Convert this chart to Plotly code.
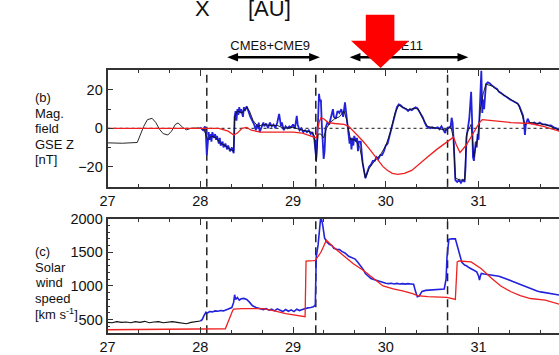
import plotly.graph_objects as go

# ---------------- data ----------------
# Panel (b): magnetic field GSE Z [nT], time in days
bz_obs_black_t = [27.00, 27.16, 27.32, 27.35, 27.39, 27.43, 27.48, 27.52, 27.56, 27.60, 27.65,
                  27.69, 27.73, 27.76, 27.81, 27.85, 27.90, 27.98, 28.04,
                  28.08, 28.12, 28.17, 28.22, 28.27, 28.32, 28.36, 28.37, 28.40, 28.45, 28.50,
                  28.53, 28.57, 28.62, 28.68, 28.75, 28.83, 28.90, 29.00, 29.10, 29.20, 29.23,
                  29.25, 29.27, 29.30, 29.33, 29.36, 29.40, 29.45, 29.50, 29.55, 29.58, 29.62,
                  29.67, 29.72, 29.76, 29.78, 29.82, 29.88, 29.94, 30.00, 30.05, 30.10, 30.14,
                  30.20, 30.25, 30.30, 30.35, 30.40, 30.45, 30.55, 30.65, 30.70, 30.73, 30.75,
                  30.80, 30.85, 30.87, 30.92, 30.95, 30.99, 31.02, 31.05, 31.08, 31.15, 31.25,
                  31.35, 31.43, 31.47, 31.50, 31.55, 31.65, 31.75, 31.87]
bz_obs_black = [-7.6, -7.8, -7.4, -4.0, 1.0, 4.5, 5.2, 3.0, -0.5, -2.8, -3.5,
                -1.5, 2.0, 2.8, 0.5, -0.8, 0.0, 0.2, -0.5,
                -6, -4, -5, -8, -9, -11, -12, 6, 9, 8, 11,
                9, 4, 1, 2, 1.5, 1.5, 0, 0.5, -1, -2, -4,
                -17.5, -3, -3, -5, 0, 3, 5, 6, 9, 4, -6,
                -6, -10, -20, -26, -21, -17, -14, -9, -2, 8, 12,
                10.5, 9.5, 10.5, 10, 5, 1, 0, -1, 1, -5, -26,
                -27, -27, -3, 2, -15, -5, 10, 18, 23, 22, 18,
                15, 12.5, 7, 2, 3, 2.5, 1.5, -1]

bz_obs_blue_t = [28.00, 28.03, 28.05, 28.06, 28.07, 28.08, 28.09, 28.10, 28.11, 28.12, 28.13,
                 28.145, 28.16, 28.17, 28.18, 28.20, 28.21, 28.22, 28.24, 28.25, 28.27, 28.29,
                 28.30, 28.32, 28.34, 28.36, 28.365, 28.37, 28.38, 28.39, 28.40, 28.41, 28.42,
                 28.43, 28.44, 28.46, 28.47, 28.48, 28.50, 28.51, 28.52, 28.54, 28.56, 28.58,
                 28.60, 28.61, 28.62, 28.63, 28.64, 28.66, 28.68, 28.69, 28.71, 28.73, 28.75,
                 28.77, 28.79, 28.81, 28.83, 28.85, 28.86, 28.87, 28.88, 28.90, 28.92, 28.94,
                 28.96, 28.98, 29.00, 29.02, 29.04, 29.05, 29.07, 29.09, 29.11, 29.13, 29.15,
                 29.17, 29.19, 29.21, 29.23, 29.24, 29.25, 29.27, 29.28, 29.29, 29.30, 29.31,
                 29.33, 29.34, 29.35, 29.37, 29.39, 29.41, 29.43, 29.44, 29.46, 29.48, 29.50,
                 29.52, 29.54, 29.56, 29.58, 29.60, 29.61, 29.62, 29.63, 29.64, 29.65, 29.66,
                 29.68, 29.69, 29.70, 29.71, 29.73, 29.75, 29.77, 29.78, 29.80, 29.82, 29.84,
                 29.86, 29.88, 29.90, 29.92, 29.94, 29.96, 29.98, 30.00, 30.02, 30.04, 30.06,
                 30.08, 30.10, 30.12, 30.14, 30.16, 30.18, 30.20, 30.22, 30.24, 30.26, 30.28,
                 30.30, 30.32, 30.34, 30.36, 30.38, 30.40, 30.42, 30.44, 30.46, 30.48, 30.50,
                 30.53, 30.56, 30.58, 30.60, 30.62, 30.64, 30.65, 30.67, 30.70, 30.71, 30.72,
                 30.73, 30.74, 30.75, 30.77, 30.79, 30.81, 30.83, 30.85, 30.86, 30.87, 30.88,
                 30.90, 30.91, 30.92, 30.93, 30.94, 30.95, 30.96, 30.97, 30.98, 30.99, 31.00,
                 31.01, 31.02, 31.03, 31.04, 31.05, 31.06, 31.07, 31.08, 31.10, 31.12, 31.14,
                 31.16, 31.18, 31.20, 31.22, 31.24, 31.26, 31.28, 31.30, 31.32, 31.34, 31.36,
                 31.38, 31.40, 31.42, 31.44, 31.46, 31.48, 31.49, 31.50, 31.51, 31.53, 31.55,
                 31.57, 31.60, 31.63, 31.66, 31.69, 31.72, 31.75, 31.78, 31.81, 31.84, 31.87]
bz_obs_blue = [0.5, -1, 1, -3, -14, -4, -2, -6, -3, -7, -2,
               -5, -3, -6, -4, -8, -5, -9, -7, -10, -8, -11,
               -9, -12, -10, -13, -5, 6, 9, 4, 10, 7, 11,
               8, 10, 6, 11, 9, 11.5, 10, 8, 6, 4, 2,
               -1, 2, 0, 3, -2, 1, 3, 1, 2.5, 0, 3,
               1, 2, 0, 3, 7.5, 4, 1, 3, -1, 1, 0,
               1, 0.5, 2, 0, 6.5, 2, -1, 0, -2, -1, -2,
               -1, -3, -2, -6, -10, -16, 5, 18, 14, 15, 2,
               -16, -12, 0, 3, 2, 6, 10, 6, 5, 9, 8,
               10, 6, 13.5, 5, -2, -8, -5, -11, -5, -9, -4,
               -7, -5, -12, -7, -7, -18, -24, -26, -23, -20, -19,
               -17, -17, -15, -16, -14, -14, -12, -9, -8, -4, 0,
               3, 8, 11, 12.5, 12, 11, 10.5, 10, 9, 10, 9.5,
               10.5, 11, 10.5, 9, 7, 5.5, 3, 1, 0.5, 0, 0.5,
               0, 0.5, -0.5, 1, -1, -2.5, -0.5, 0, 1, 5.5, 3,
               -5, -22, -27, -28, -27, -28.5, -27, -28, -20, -5, -2,
               5, 12, 19, 5, -15, -17, -12, -7, -10, -3, -6,
               5, 12, 30, 8, 15, 10, 20, 23, 24, 23.5, 22.5,
               21.5, 21, 20.5, 19, 18.5, 17.5, 17, 16.5, 15.5, 15, 14.5,
               14, 13.5, 13, 11.5, 9, 6.5, 3, -3.5, 2, 5, 3,
               2.5, 3, 2, 3, 2, 2, 1.5, 1.5, 0.5, 0, -1]

bz_model_t = [27.00, 28.00, 28.20, 28.30, 28.36, 28.40, 28.45, 28.50, 28.55, 28.65, 28.80,
              29.00, 29.10, 29.20, 29.25, 29.28, 29.30, 29.33, 29.38, 29.45, 29.55, 29.60,
              29.65, 29.70, 29.75, 29.81, 29.87, 29.92, 29.97, 30.02, 30.07, 30.13, 30.20,
              30.28, 30.34, 30.40, 30.45, 30.55, 30.65, 30.73, 30.76, 30.80, 30.87, 30.96,
              31.01, 31.04, 31.15, 31.35, 31.56, 31.70, 31.87]
bz_model = [0, 0, 0, -1.5, -3.5, -2.5, 0, 0.5, -1, -2, -2,
            -2, -2.5, -4, -5, 3, 5.5, 5, 3, 2.5, 2, 1,
            -1.5, -3.5, -6.5, -10, -14, -17, -20, -22, -23.5, -24, -23.5,
            -22, -19.7, -17, -15, -11, -7.6, -4.6, -8.6, -12.7, -8.6, -1,
            3, 4.5, 4, 3, 2.5, 1, -1.5]

# Panel (c): solar wind speed [km/s]
v_obs_black_t = [27.00, 27.05, 27.10, 27.15, 27.20, 27.25, 27.30, 27.35, 27.40, 27.45, 27.50,
                 27.55, 27.60, 27.65, 27.70, 27.75, 27.80, 27.85, 27.90, 27.95, 28.00]
v_obs_black = [460, 455, 470, 460, 465, 455, 470, 460, 475, 455, 465,
               470, 455, 460, 470, 460, 445, 440, 460, 470, 480]

v_obs_blue_t = [28.00, 28.02, 28.04, 28.06, 28.08, 28.10, 28.13, 28.16, 28.19, 28.22, 28.25,
                28.28, 28.31, 28.34, 28.36, 28.37, 28.38, 28.40, 28.42, 28.44, 28.47, 28.50,
                28.53, 28.56, 28.60, 28.64, 28.68, 28.71, 28.74, 28.77, 28.80, 28.83, 28.86,
                28.89, 28.92, 28.95, 28.98, 29.01, 29.04, 29.07, 29.10, 29.13, 29.16, 29.19,
                29.22, 29.24, 29.25, 29.27, 29.29, 29.30, 29.32, 29.34, 29.36, 29.39, 29.42,
                29.44, 29.47, 29.50, 29.53, 29.56, 29.60, 29.63, 29.67, 29.70, 29.73, 29.76,
                29.78, 29.81, 29.84, 29.87, 29.90, 29.94, 29.97, 30.00, 30.03, 30.06, 30.09,
                30.12, 30.15, 30.18, 30.21, 30.24, 30.27, 30.30, 30.32, 30.34, 30.36, 30.39,
                30.43, 30.47, 30.51, 30.55, 30.59, 30.63, 30.65, 30.66, 30.68, 30.71, 30.75,
                30.77, 30.79, 30.82, 30.85, 30.87, 30.90, 30.92, 30.95, 30.98, 31.00, 31.01,
                31.02, 31.03, 31.06, 31.09, 31.12, 31.15, 31.19, 31.22, 31.25, 31.29, 31.33,
                31.37, 31.40, 31.44, 31.48, 31.51, 31.55, 31.59, 31.63, 31.67, 31.72, 31.77,
                31.82, 31.87]
v_obs_blue = [480, 500, 560, 610, 600, 620, 615, 630, 625, 635, 630,
              645, 655, 680, 760, 870, 800, 830, 790, 810, 815, 800,
              760, 710, 680, 665, 650, 665, 640, 655, 630, 660, 635,
              620, 650, 625, 645, 620, 655, 635, 650, 665, 675, 680,
              690, 720, 1430, 1610, 1900, 2050, 1900, 1714, 1660, 1620, 1600,
              1560, 1545, 1540, 1510, 1490, 1440, 1420, 1400, 1350, 1300, 1240,
              1185, 1140, 1110, 1095, 1080, 1065, 1045, 1040, 1035, 1040, 1030,
              1038, 1030, 1035, 1028, 1035, 1030, 1025, 920, 840, 850, 920,
              935, 940, 945, 945, 950, 955, 1100, 1430, 1690, 1700, 1700,
              1600, 1480, 1350, 1310, 1300, 1270, 1255, 1230, 1210, 1150, 1086,
              1150, 1186, 1178, 1172, 1168, 1162, 1155, 1145, 1130, 1114, 1090,
              1065, 1048, 1025, 1005, 985, 960, 940, 925, 912, 900, 890,
              878, 865]

v_model_t = [27.00, 27.50, 28.00, 28.27, 28.35, 28.36, 28.45, 28.55, 28.68, 28.80, 28.92,
             29.13, 29.14, 29.22, 29.24, 29.30, 29.36, 29.44, 29.55, 29.65, 29.76, 29.86,
             29.97, 30.08, 30.18, 30.29, 30.34, 30.45, 30.56, 30.66, 30.75, 30.77, 30.79,
             30.92, 31.03, 31.14, 31.24, 31.35, 31.45, 31.56, 31.72, 31.87]
v_model = [350, 355, 360, 365, 640, 655, 665, 668, 665, 630, 590,
           545, 1370, 1375, 1380, 1500, 1680, 1570, 1443, 1330, 1230, 1114,
           1000, 957, 929, 886, 857, 843, 840, 830, 800, 1357, 1371,
           1357, 1257, 1114, 1000, 914, 857, 814, 790, 730]

# CME shock passages (vertical dashed lines) and ICME intervals
shock_days = [28.07, 29.245, 30.666]
cme_labels = ["CME8+CME9", "CME11"]
cme_spans = [(28.29, 29.29), (29.61, 30.89)]

day_ticks = [27, 28, 29, 30, 31]
bz_ticks = [-20, 0, 20]
v_ticks = [500, 1000, 1500, 2000]

# ---------------- layout helpers ----------------
W, H = 559, 355
FONT = "Liberation Sans, Arial, sans-serif"
BLUE = "#2222dd"
RED = "#ee2020"
PLOT_LEFT = 101


def fx(px):
    return px / W


def fy(py):
    return 1 - py / H


X_RANGE = [27.0, 27.0 + (W - 100) / 94.3]
PX_PER_DAY = (W - PLOT_LEFT) / (X_RANGE[1] - X_RANGE[0])


def px_to_day(px):
    return X_RANGE[0] + (px - PLOT_LEFT) / PX_PER_DAY


fig = go.Figure()

fig.add_trace(go.Scatter(x=bz_obs_blue_t, y=bz_obs_blue, mode="lines",
                         line=dict(color=BLUE, width=1.8), xaxis="x", yaxis="y"))
fig.add_trace(go.Scatter(x=bz_obs_black_t, y=bz_obs_black, mode="lines",
                         line=dict(color="#111111", width=0.9), xaxis="x", yaxis="y"))
fig.add_trace(go.Scatter(x=bz_model_t, y=bz_model, mode="lines",
                         line=dict(color=RED, width=1.3), xaxis="x", yaxis="y"))

fig.add_trace(go.Scatter(x=v_obs_black_t, y=v_obs_black, mode="lines",
                         line=dict(color="#111111", width=1.1), xaxis="x2", yaxis="y2"))
fig.add_trace(go.Scatter(x=v_obs_blue_t, y=v_obs_blue, mode="lines",
                         line=dict(color=BLUE, width=1.6), xaxis="x2", yaxis="y2"))
fig.add_trace(go.Scatter(x=v_model_t, y=v_model, mode="lines",
                         line=dict(color=RED, width=1.3), xaxis="x2", yaxis="y2"))

# header strip above panel (b): overlay axes (pixel-unit y) for the interval labels,
# so that the red pointer shape can sit on top of them
lab_x = [px_to_day(266), px_to_day(421)]
fig.add_trace(go.Scatter(x=lab_x, y=[40, 40], mode="text", text=cme_labels,
                         textposition=["middle center", "middle left"],
                         textfont=dict(family=FONT, size=13, color="#111111"),
                         cliponaxis=False, hoverinfo="skip", xaxis="x3", yaxis="y3"))

axis_common = dict(showline=True, linecolor="#333333", linewidth=1.8, showgrid=False,
                   zeroline=False, ticks="inside", tickcolor="#333333", tickwidth=1.3,
                   tickfont=dict(family=FONT, size=14.5, color="#111111"))

xdom = [fx(PLOT_LEFT), 1.0]
fig.update_layout(
    width=W, height=H,
    margin=dict(l=0, r=0, t=0, b=0),
    paper_bgcolor="white", plot_bgcolor="white",
    showlegend=False,
    xaxis=dict(domain=xdom, range=X_RANGE, anchor="y", mirror="allticks",
               tickvals=day_ticks, ticklen=6,
               minor=dict(dtick=1 / 3, tick0=27, ticklen=3, ticks="inside",
                          tickcolor="#333333", showgrid=False),
               **axis_common),
    yaxis=dict(domain=[fy(185), fy(64)], range=[-30.5, 30.5], anchor="x",
               tickvals=bz_ticks, ticklen=6, mirror=False,
               minor=dict(dtick=10, tick0=0, ticklen=4, ticks="inside",
                          tickcolor="#333333", showgrid=False),
               **axis_common),
    xaxis2=dict(domain=xdom, range=X_RANGE, anchor="y2", mirror="allticks",
                tickvals=day_ticks, ticklen=6,
                minor=dict(dtick=1 / 3, tick0=27, ticklen=3, ticks="inside",
                           tickcolor="#333333", showgrid=False),
                **axis_common),
    yaxis2=dict(domain=[fy(336.5), fy(218)], range=[300, 2000], anchor="x2",
                tickvals=v_ticks, ticklen=6, mirror=False,
                minor=dict(dtick=100, tick0=0, ticklen=3, ticks="inside",
                           tickcolor="#333333", showgrid=False),
                **axis_common),
    xaxis3=dict(domain=xdom, range=X_RANGE, anchor="y3", visible=False, fixedrange=True),
    yaxis3=dict(domain=[fy(64), 1.0], range=[64, 0], anchor="x3", visible=False,
                fixedrange=True),
)

shapes = []
# zero reference line in the field panel
shapes.append(dict(type="line", xref="x", yref="y", x0=X_RANGE[0], x1=X_RANGE[1], y0=0, y1=0,
                   line=dict(color="#444444", width=1.2, dash="dot"), layer="below"))
# shock arrival times
for d in shock_days:
    for xr, yr in (("x", "y domain"), ("x2", "y2 domain")):
        shapes.append(dict(type="line", xref=xr, yref=yr, x0=d, x1=d, y0=0, y1=1,
                           line=dict(color="#222222", width=1.5, dash="8px,5px"),
                           layer="below"))

# double-headed interval arrows (header strip, pixel y)
head_len = 11 / PX_PER_DAY
head_half = 4.5
arrow_y = 51
for (t0, t1) in cme_spans:
    shapes.append(dict(type="line", xref="x3", yref="y3", x0=t0 + head_len * 0.8,
                       x1=t1 - head_len * 0.8, y0=arrow_y, y1=arrow_y,
                       line=dict(color="black", width=2.6), layer="above"))
    for tip, sgn in ((t0, 1), (t1, -1)):
        base = tip + sgn * head_len
        shapes.append(dict(type="path", xref="x3", yref="y3",
                           path=f"M {tip},{arrow_y} L {base},{arrow_y - head_half} "
                                f"L {base},{arrow_y + head_half} Z",
                           fillcolor="black", line=dict(width=0), layer="above"))

# big red pointer above the panels (pixel outline)
arrow_pts = [(363, 7), (392, 7), (392, 34), (407, 34), (378, 62), (348, 34), (363, 34)]
path = "M " + " L ".join(f"{fx(a):.5f},{fy(b):.5f}" for a, b in arrow_pts) + " Z"
shapes.append(dict(type="path", xref="paper", yref="paper", path=path,
                   fillcolor="#ff0000", line=dict(width=0), layer="above"))
fig.update_layout(shapes=shapes)

ann = []
# axis title at the very top (mostly outside the view)
ann.append(dict(x=fx(197), y=fy(0), xref="paper", yref="paper", text="X",
                showarrow=False, xanchor="center", yanchor="middle",
                font=dict(family=FONT, size=22, color="#111111")))
ann.append(dict(x=fx(241), y=fy(0), xref="paper", yref="paper", text="[AU]",
                showarrow=False, xanchor="left", yanchor="middle",
                font=dict(family=FONT, size=22, color="#111111")))

# panel labels on the left
left_b = ["(b)", "Mag.", "field", "GSE Z", "[nT]"]
left_c = ["(c)", "Solar", "wind", "speed", "[km s<sup>-1</sup>]"]
for i, s in enumerate(left_b):
    ann.append(dict(x=fx(25), y=fy(93 + 16 * i), xref="paper", yref="paper", text=s,
                    showarrow=False, xanchor="left", yanchor="middle",
                    font=dict(family=FONT, size=13, color="#111111")))
for i, s in enumerate(left_c):
    ann.append(dict(x=fx(25), y=fy(252 + 16.3 * i), xref="paper", yref="paper", text=s,
                    showarrow=False, xanchor="left", yanchor="middle",
                    font=dict(family=FONT, size=13, color="#111111")))
fig.update_layout(annotations=ann)

fig.write_html("out.html")
